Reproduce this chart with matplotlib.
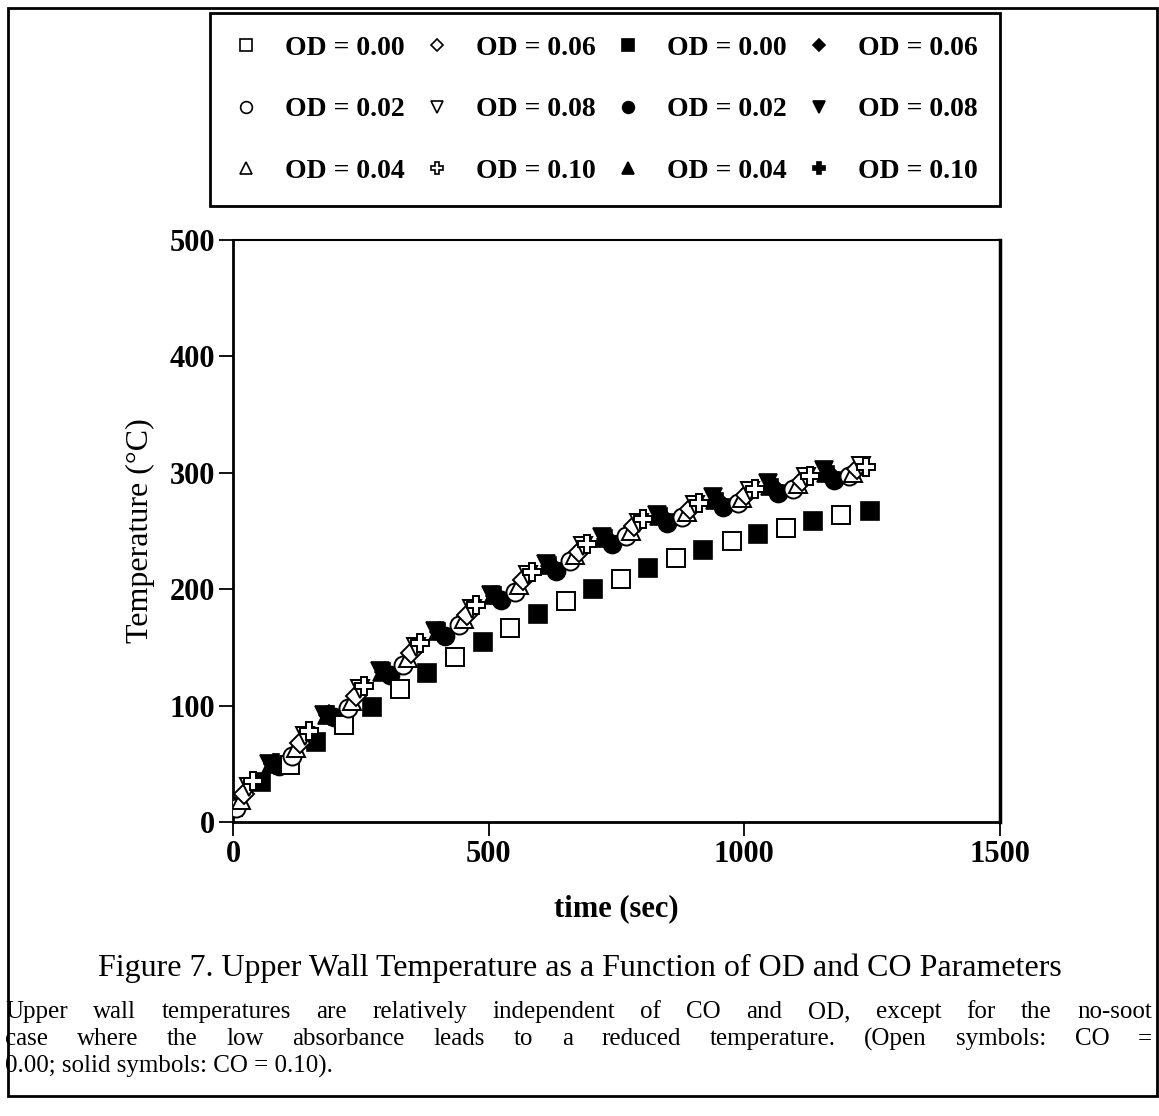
import matplotlib
matplotlib.use("Agg")
import matplotlib.pyplot as plt
from matplotlib.lines import Line2D
from matplotlib.patches import Rectangle

plt.rcParams['font.family'] = ['Liberation Serif', 'DejaVu Serif']

# open symbols: CO = 0.00
t_od00_open = [0, 112, 218, 327, 435, 541, 651, 759, 867, 975, 1082, 1190]
T_od00_open = [13, 49, 83, 114, 142, 167, 190, 209, 227, 241, 253, 264]
t_od02_open = [6, 115, 224, 333, 442, 551, 660, 769, 878, 987, 1096, 1204]
T_od02_open = [12, 57, 98, 135, 169, 198, 224, 246, 262, 274, 286, 297]
t_od04_open = [15, 124, 233, 342, 451, 560, 669, 778, 887, 996, 1105, 1213]
T_od04_open = [19, 64, 104, 141, 174, 204, 229, 250, 266, 278, 290, 300]
t_od06_open = [22, 131, 240, 349, 458, 567, 676, 785, 894, 1003, 1112, 1220]
T_od06_open = [24, 68, 108, 145, 178, 208, 232, 254, 269, 281, 293, 303]
t_od08_open = [31, 140, 249, 358, 467, 576, 685, 794, 903, 1012, 1121, 1229]
T_od08_open = [30, 74, 114, 150, 183, 212, 237, 257, 272, 284, 296, 306]
t_od10_open = [39, 148, 257, 366, 475, 584, 693, 802, 911, 1020, 1129, 1237]
T_od10_open = [35, 78, 117, 154, 186, 215, 239, 260, 274, 286, 297, 305]

# solid symbols: CO = 0.10
t_od00_solid = [55, 163, 271, 380, 488, 596, 704, 812, 920, 1027, 1135, 1245]
T_od00_solid = [34, 69, 99, 128, 155, 179, 200, 218, 234, 247, 259, 267]
t_od02_solid = [90, 198, 307, 415, 524, 632, 741, 849, 958, 1066, 1175]
T_od02_solid = [48, 90, 126, 160, 191, 216, 239, 257, 271, 283, 294]
t_od04_solid = [75, 183, 292, 400, 509, 617, 726, 834, 943, 1051, 1160]
T_od04_solid = [50, 92, 129, 164, 195, 221, 244, 263, 277, 289, 300]
t_od06_solid = [80, 188, 297, 405, 514, 622, 731, 839, 948, 1056, 1165]
T_od06_solid = [50, 92, 129, 163, 194, 220, 243, 262, 276, 288, 299]
t_od08_solid = [70, 178, 287, 395, 504, 612, 721, 829, 938, 1046, 1155]
T_od08_solid = [50, 92, 130, 164, 195, 222, 245, 264, 279, 291, 302]
t_od10_solid = [84, 192, 301, 409, 518, 626, 735, 843, 952, 1060, 1169]
T_od10_solid = [51, 92, 129, 163, 194, 220, 243, 262, 275, 287, 298]

od_labels = ['OD = 0.00', 'OD = 0.02', 'OD = 0.04', 'OD = 0.06', 'OD = 0.08', 'OD = 0.10']
markers = ['s', 'o', '^', 'D', 'v', 'P']

open_series = [(t_od00_open, T_od00_open), (t_od02_open, T_od02_open),
               (t_od04_open, T_od04_open), (t_od06_open, T_od06_open),
               (t_od08_open, T_od08_open), (t_od10_open, T_od10_open)]
solid_series = [(t_od00_solid, T_od00_solid), (t_od02_solid, T_od02_solid),
                (t_od04_solid, T_od04_solid), (t_od06_solid, T_od06_solid),
                (t_od08_solid, T_od08_solid), (t_od10_solid, T_od10_solid)]

W, H = 1159, 1116
fig = plt.figure(figsize=(W / 100, H / 100), dpi=100)
fig.patch.set_facecolor('white')

ax = fig.add_axes([233 / W, 1 - 822 / H, 767 / W, 582 / H])

MS = 13
sizes = {'s': MS, 'o': MS, '^': MS, 'D': MS * 0.75, 'v': MS, 'P': MS}

for (t, T), m in zip(solid_series, markers):
    ax.plot(t, T, linestyle='none', marker=m, ms=sizes[m], mfc='black',
            mec='black', mew=1.2, zorder=2)
for (t, T), m in zip(open_series, markers):
    ax.plot(t, T, linestyle='none', marker=m, ms=sizes[m], mfc='white',
            mec='black', mew=1.4, zorder=3)

ax.set_xlim(0, 1500)
ax.set_ylim(0, 500)
ax.set_xticks([0, 500, 1000, 1500])
ax.set_yticks([0, 100, 200, 300, 400, 500])
ax.tick_params(direction='out', length=10, width=1.3, pad=3)
for lab in ax.get_xticklabels() + ax.get_yticklabels():
    lab.set_fontsize(22)
    lab.set_fontweight('bold')
for sp in ax.spines.values():
    sp.set_linewidth(2)
ax.spines['top'].set_linewidth(1.5)
ax.spines['right'].set_linewidth(2.5)

ax.set_xlabel('time (sec)', fontsize=22, fontweight='bold', labelpad=18)
ax.set_ylabel('Temperature (°C)', fontsize=23, labelpad=10)

# legend: open symbols in the first two columns, solid in the last two
handles = []
labels = []
for i, m in enumerate(markers):
    handles.append(Line2D([], [], linestyle='none', marker=m, ms=sizes[m] * 0.65,
                          mfc='white', mec='black', mew=1.2))
    labels.append(od_labels[i])
for i, m in enumerate(markers):
    handles.append(Line2D([], [], linestyle='none', marker=m, ms=sizes[m] * 0.65,
                          mfc='black', mec='black', mew=1.2))
    labels.append(od_labels[i])

leg = fig.legend(handles, labels, ncol=4, loc='upper left',
                 bbox_to_anchor=(210 / W, 1 - 13 / H, 790 / W, 0.0), mode='expand',
                 prop={'size': 20, 'weight': 'bold'}, frameon=True, fancybox=False,
                 edgecolor='black', framealpha=1, handlelength=1.0, handletextpad=0.9,
                 labelspacing=1.3, borderpad=0.8, columnspacing=1.0, borderaxespad=0)
leg.get_frame().set_linewidth(2)

fig.text(580 / W, 1 - 968 / H,
         'Figure 7. Upper Wall Temperature as a Function of OD and CO Parameters',
         ha='center', va='center', fontsize=23)


def justify_line(words, y, x0, x1, **kw):
    r = fig.canvas.get_renderer()
    texts = [fig.text(0, y, w, va='center', **kw) for w in words]
    widths = [t.get_window_extent(r).width for t in texts]
    gap = (x1 - x0 - sum(widths)) / (len(words) - 1)
    x = x0
    for t, w in zip(texts, widths):
        t.set_x(x / W)
        x += w + gap


para = ['Upper wall temperatures are relatively independent of CO and OD, except for the no-soot',
        'case where the low absorbance leads to a reduced temperature. (Open symbols: CO =']
justify_line(para[0].split(), 1 - 1012 / H, 5, 1152, fontsize=18)
justify_line(para[1].split(), 1 - 1039 / H, 5, 1152, fontsize=18)
fig.text(5 / W, 1 - 1066 / H, '0.00; solid symbols: CO = 0.10).', va='center', fontsize=18)

fig.add_artist(Rectangle((8 / W, 1 - 1096 / H), 1149 / W, 1088 / H,
                         transform=fig.transFigure, fill=False, lw=2, ec='black'))

fig.savefig('out.png', dpi=100)
